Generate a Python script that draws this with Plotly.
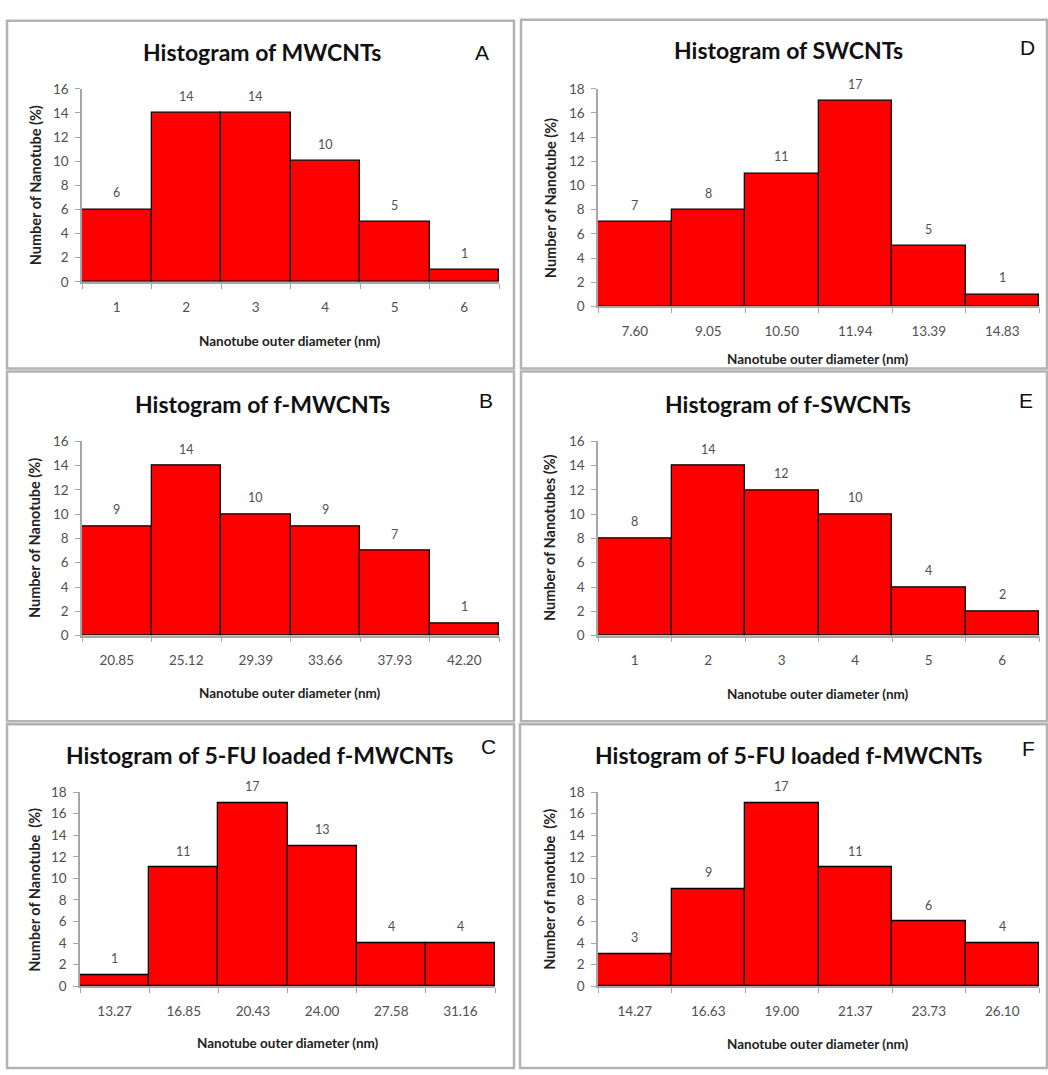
import plotly.graph_objects as go

W, H = 1048, 1075

# ---------------- data ----------------
cats_A = ["1", "2", "3", "4", "5", "6"]
vals_A = [6, 14, 14, 10, 5, 1]

cats_D = ["7.60", "9.05", "10.50", "11.94", "13.39", "14.83"]
vals_D = [7, 8, 11, 17, 5, 1]

cats_B = ["20.85", "25.12", "29.39", "33.66", "37.93", "42.20"]
vals_B = [9, 14, 10, 9, 7, 1]

cats_E = ["1", "2", "3", "4", "5", "6"]
vals_E = [8, 14, 12, 10, 4, 2]

cats_C = ["13.27", "16.85", "20.43", "24.00", "27.58", "31.16"]
vals_C = [1, 11, 17, 13, 4, 4]

cats_F = ["14.27", "16.63", "19.00", "21.37", "23.73", "26.10"]
vals_F = [3, 9, 17, 11, 6, 4]

titles = {
    "A": "Histogram of MWCNTs",
    "D": "Histogram of SWCNTs",
    "B": "Histogram of f-MWCNTs",
    "E": "Histogram of f-SWCNTs",
    "C": "Histogram of 5-FU loaded f-MWCNTs",
    "F": "Histogram of 5-FU loaded f-MWCNTs",
}
ytitles = {
    "A": "Number of Nanotube (%)",
    "D": "Number of Nanotube (%)",
    "B": "Number of Nanotube (%)",
    "E": "Number of Nanotubes (%)",
    "C": "Number of Nanotube  (%)",
    "F": "Number of nanotube  (%)",
}
xtitle = "Nanotube outer diameter (nm)"

# ---------------- layout (pixel geometry) ----------------
panels = [
    dict(k="A", cats=cats_A, vals=vals_A, ymax=16, px=(82, 499), py=(278, 82),
         t=(262, 45), l=(482, 45), xl=(290, 338), yl=(35, 180), box=(7, 13, 514, 366)),
    dict(k="D", cats=cats_D, vals=vals_D, ymax=18, px=(598, 1039), py=(303, 82),
         t=(788, 43), l=(1027, 40), xl=(818, 356), yl=(550, 193), box=(521, 12, 1047, 366)),
    dict(k="B", cats=cats_B, vals=vals_B, ymax=16, px=(82, 499), py=(637, 440),
         t=(262, 402), l=(486, 398), xl=(290, 695), yl=(35, 538), box=(7, 369, 514, 724)),
    dict(k="E", cats=cats_E, vals=vals_E, ymax=16, px=(598, 1039), py=(637, 440),
         t=(788, 402), l=(1026, 398), xl=(818, 696), yl=(550, 538), box=(521, 369, 1047, 724)),
    dict(k="C", cats=cats_C, vals=vals_C, ymax=18, px=(80, 495), py=(993, 796),
         t=(259, 758), l=(488, 750), xl=(288, 1051), yl=(35, 895), box=(7, 727, 514, 1076)),
    dict(k="F", cats=cats_F, vals=vals_F, ymax=18, px=(598, 1039), py=(993, 796),
         t=(788, 758), l=(1028, 752), xl=(818, 1052), yl=(550, 895), box=(520, 727, 1047, 1076)),
]


def fx(x):
    return x / W


def fy(y):
    return 1 - y / H


fig = go.Figure()
annotations = []
shapes = []
TICK_FONT = dict(family="Lato", size=13.5, color="#505050")
AXIS_COLOR = "#a6a6a6"

for i, p in enumerate(panels, start=1):
    xa = "x" if i == 1 else f"x{i}"
    ya = "y" if i == 1 else f"y{i}"
    xkey = "xaxis" if i == 1 else f"xaxis{i}"
    ykey = "yaxis" if i == 1 else f"yaxis{i}"

    fig.add_trace(go.Bar(
        x=p["cats"], y=p["vals"], xaxis=xa, yaxis=ya,
        marker=dict(color="#FF0000", line=dict(color="#000000", width=1.3)),
        showlegend=False, hoverinfo="x+y",
    ))

    fig.layout[xkey] = dict(
        domain=[fx(p["px"][0]), fx(p["px"][1])],
        anchor=ya, type="category", range=[-0.5, 5.5],
        tickson="boundaries", ticks="outside", ticklen=5, tickcolor=AXIS_COLOR,
        showline=True, linecolor=AXIS_COLOR, linewidth=1.5,
        showgrid=False, zeroline=False, tickfont=TICK_FONT,
        ticklabelstandoff=12, fixedrange=True,
    )
    fig.layout[ykey] = dict(
        domain=[fy(p["py"][0]), fy(p["py"][1])],
        anchor=xa, range=[0, p["ymax"]], dtick=2, tick0=0,
        ticks="outside", ticklen=5, tickcolor=AXIS_COLOR,
        showline=True, linecolor=AXIS_COLOR, linewidth=1.5,
        showgrid=False, zeroline=False, tickfont=TICK_FONT,
        ticklabelstandoff=4, fixedrange=True,
    )

    # value labels above bars (category index positions on the category axis)
    for j, v in enumerate(p["vals"]):
        annotations.append(dict(
            x=j, y=v, xref=xa, yref=ya, text=str(v), showarrow=False,
            yanchor="bottom", yshift=7,
            font=dict(family="Lato", size=12.5, color="#505050"),
        ))

    annotations.append(dict(
        x=fx(p["t"][0]), y=fy(p["t"][1]), xref="paper", yref="paper",
        text=titles[p["k"]], showarrow=False, xanchor="center", yanchor="middle",
        font=dict(family="Lato", size=23, color="#111111", weight="bold"),
    ))
    annotations.append(dict(
        x=fx(p["l"][0]), y=fy(p["l"][1]), xref="paper", yref="paper",
        text=p["k"], showarrow=False, xanchor="center", yanchor="middle",
        font=dict(family="Liberation Sans, Arial", size=21, color="#111111"),
    ))
    annotations.append(dict(
        x=fx(p["xl"][0]), y=fy(p["xl"][1]), xref="paper", yref="paper",
        text=xtitle, showarrow=False, xanchor="center", yanchor="middle",
        font=dict(family="Lato", size=13.5, color="#222222", weight="bold"),
    ))
    annotations.append(dict(
        x=fx(p["yl"][0]), y=fy(p["yl"][1]), xref="paper", yref="paper",
        text=ytitles[p["k"]], showarrow=False, xanchor="center", yanchor="middle",
        textangle=-90,
        font=dict(family="Lato", size=14.5, color="#222222", weight="bold"),
    ))

    b = p["box"]
    shapes.append(dict(
        type="rect", xref="paper", yref="paper",
        x0=fx(b[0]), x1=fx(b[2]), y0=fy(b[3]), y1=fy(b[1]),
        line=dict(color="#b3b3b3", width=2.5), fillcolor="rgba(0,0,0,0)",
    ))

fig.update_layout(
    width=W, height=H,
    margin=dict(l=0, r=0, t=0, b=0),
    paper_bgcolor="white", plot_bgcolor="white",
    bargap=0, annotations=annotations, shapes=shapes,
    showlegend=False,
)

fig.write_html(
    "out.html",
    config={"displayModeBar": False},
    post_script="document.body.style.margin='0';",
)
